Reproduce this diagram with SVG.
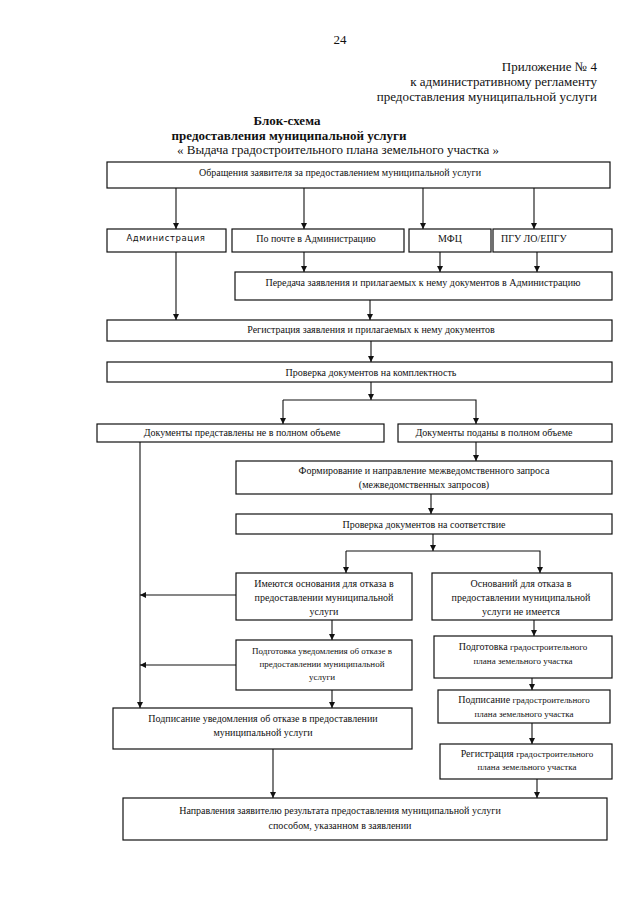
<svg xmlns="http://www.w3.org/2000/svg" width="640" height="901" viewBox="0 0 640 901">
<style>
  .bg{fill:#fff}
  .box{fill:#fff;stroke:#111;stroke-width:1.2}
  .t{font-family:"Liberation Serif","Times New Roman",serif;font-size:10px;fill:#111;text-anchor:middle}
  .h{font-family:"Liberation Serif","Times New Roman",serif;font-size:13px;fill:#111}
  .b{font-weight:bold;text-anchor:middle}
  .r{text-anchor:end}
  .st{text-anchor:start}
  .s{font-size:9px}
  .sans{font-family:"DejaVu Sans","Liberation Sans",sans-serif;font-size:8.5px;letter-spacing:0.6px}
  .c{fill:none;stroke:#111;stroke-width:1.1}
</style>
<defs>
  <marker id="ah" viewBox="0 0 10 10" refX="10" refY="5" markerWidth="6" markerHeight="6" markerUnits="userSpaceOnUse" orient="auto">
    <path d="M0,0 L10,5 L0,10 z" fill="#111"/>
  </marker>
</defs>
<rect class="bg" x="0" y="0" width="640" height="901"/>

<g id="header">
  <text class="h" x="340" y="44" text-anchor="middle">24</text>
  <text class="h r" x="597" y="71">Приложение № 4</text>
  <text class="h r" x="597" y="86">к административному регламенту</text>
  <text class="h r" x="597" y="101">предоставления муниципальной услуги</text>
  <text class="h b" x="287" y="125">Блок-схема</text>
  <text class="h b" x="289" y="140">предоставления муниципальной услуги</text>
  <text class="h" x="338" y="154" text-anchor="middle">« Выдача градостроительного плана земельного участка »</text>
</g>

<g id="connectors">
  <line class="c" x1="176" y1="188" x2="176" y2="229" marker-end="url(#ah)"/>
  <line class="c" x1="304" y1="188" x2="304" y2="229" marker-end="url(#ah)"/>
  <line class="c" x1="423" y1="188" x2="423" y2="229" marker-end="url(#ah)"/>
  <line class="c" x1="534" y1="188" x2="534" y2="229" marker-end="url(#ah)"/>
  <line class="c" x1="304" y1="252" x2="304" y2="272" marker-end="url(#ah)"/>
  <line class="c" x1="440" y1="252" x2="440" y2="272" marker-end="url(#ah)"/>
  <line class="c" x1="537" y1="252" x2="537" y2="272" marker-end="url(#ah)"/>
  <line class="c" x1="176" y1="252" x2="176" y2="320" marker-end="url(#ah)"/>
  <line class="c" x1="370" y1="300" x2="370" y2="320" marker-end="url(#ah)"/>
  <line class="c" x1="371" y1="341" x2="371" y2="362" marker-end="url(#ah)"/>
  <line class="c" x1="371" y1="382" x2="371" y2="400" marker-end="url(#ah)"/>
  <polyline class="c" points="283,400 476,400 476,424" marker-end="url(#ah)"/>
  <line class="c" x1="283" y1="400" x2="283" y2="424" marker-end="url(#ah)"/>
  <line class="c" x1="140" y1="442" x2="140" y2="708" marker-end="url(#ah)"/>
  <line class="c" x1="476" y1="442" x2="476" y2="461" marker-end="url(#ah)"/>
  <line class="c" x1="431" y1="494" x2="431" y2="514" marker-end="url(#ah)"/>
  <line class="c" x1="433" y1="534" x2="433" y2="551" marker-end="url(#ah)"/>
  <polyline class="c" points="346,551 540,551 540,573" marker-end="url(#ah)"/>
  <line class="c" x1="346" y1="551" x2="346" y2="573" marker-end="url(#ah)"/>
  <line class="c" x1="236" y1="595" x2="140" y2="595" marker-end="url(#ah)"/>
  <line class="c" x1="332" y1="620" x2="332" y2="640" marker-end="url(#ah)"/>
  <line class="c" x1="236" y1="665" x2="140" y2="665" marker-end="url(#ah)"/>
  <line class="c" x1="332" y1="690" x2="332" y2="708" marker-end="url(#ah)"/>
  <line class="c" x1="534" y1="620" x2="534" y2="636" marker-end="url(#ah)"/>
  <line class="c" x1="532" y1="678" x2="532" y2="690" marker-end="url(#ah)"/>
  <line class="c" x1="532" y1="723" x2="532" y2="744" marker-end="url(#ah)"/>
  <line class="c" x1="537" y1="779" x2="537" y2="798" marker-end="url(#ah)"/>
  <line class="c" x1="273" y1="749" x2="273" y2="798" marker-end="url(#ah)"/>
</g>

<g id="n-appeal">
  <rect class="box" x="107" y="162" width="503" height="26"/>
  <text class="t" x="340" y="176">Обращения заявителя за предоставлением муниципальной услуги</text>
</g>
<g id="n-admin">
  <rect class="box" x="107" y="229" width="119" height="23"/>
  <text class="t sans" x="166" y="241">Администрация</text>
</g>
<g id="n-post">
  <rect class="box" x="232" y="229" width="172" height="23"/>
  <text class="t" x="316" y="242">По почте в Администрацию</text>
</g>
<g id="n-mfc">
  <rect class="box" x="409" y="229" width="82" height="23"/>
  <text class="t" x="450" y="242">МФЦ</text>
</g>
<g id="n-pgu">
  <rect class="box" x="493" y="229" width="119" height="23"/>
  <text class="t st" x="501" y="242">ПГУ ЛО/ЕПГУ</text>
</g>
<g id="n-transfer">
  <rect class="box" x="235" y="272" width="377" height="28"/>
  <text class="t" x="423" y="286">Передача заявления и прилагаемых к нему документов в Администрацию</text>
</g>
<g id="n-register">
  <rect class="box" x="107" y="320" width="505" height="21"/>
  <text class="t" x="371" y="333">Регистрация заявления и прилагаемых к нему документов</text>
</g>
<g id="n-check">
  <rect class="box" x="107" y="362" width="505" height="20"/>
  <text class="t" x="371" y="376">Проверка документов на комплектность</text>
</g>
<g id="n-incomplete">
  <rect class="box" x="97" y="424" width="287" height="18"/>
  <text class="t" x="242" y="436">Документы представлены не в полном объеме</text>
</g>
<g id="n-complete">
  <rect class="box" x="398" y="424" width="214" height="18"/>
  <text class="t" x="494" y="436">Документы поданы в полном объеме</text>
</g>
<g id="n-request">
  <rect class="box" x="236" y="461" width="376" height="33"/>
  <text class="t" x="424" y="474">Формирование и направление межведомственного запроса</text>
  <text class="t" x="424" y="488">(межведомственных запросов)</text>
</g>
<g id="n-verify">
  <rect class="box" x="236" y="514" width="376" height="20"/>
  <text class="t" x="424" y="528">Проверка документов на соответствие</text>
</g>
<g id="n-refuse-grounds">
  <rect class="box" x="236" y="573" width="176" height="47"/>
  <text class="t" x="324" y="587">Имеются основания для отказа в</text>
  <text class="t" x="324" y="601">предоставлении муниципальной</text>
  <text class="t" x="324" y="615">услуги</text>
</g>
<g id="n-no-grounds">
  <rect class="box" x="432" y="573" width="180" height="47"/>
  <text class="t" x="521" y="587">Оснований для отказа в</text>
  <text class="t" x="521" y="601">предоставлении  муниципальной</text>
  <text class="t" x="521" y="615">услуги не имеется</text>
</g>
<g id="n-prep-refusal">
  <rect class="box" x="236" y="640" width="176" height="50"/>
  <text class="t s" x="322" y="654">Подготовка уведомления об отказе в</text>
  <text class="t s" x="322" y="667">предоставлении муниципальной</text>
  <text class="t s" x="322" y="680">услуги</text>
</g>
<g id="n-prep-plan">
  <rect class="box" x="434" y="636" width="178" height="42"/>
  <text class="t" x="523" y="650">Подготовка <tspan class="s">градостроительного</tspan></text>
  <text class="t s" x="523" y="664">плана земельного участка</text>
</g>
<g id="n-sign-plan">
  <rect class="box" x="438" y="690" width="172" height="33"/>
  <text class="t" x="524" y="703">Подписание <tspan class="s">градостроительного</tspan></text>
  <text class="t s" x="524" y="717">плана земельного участка</text>
</g>
<g id="n-reg-plan">
  <rect class="box" x="440" y="744" width="172" height="35"/>
  <text class="t" x="527" y="757">Регистрация <tspan class="s">градостроительного</tspan></text>
  <text class="t s" x="527" y="770">плана земельного участка</text>
</g>
<g id="n-sign-refusal">
  <rect class="box" x="113" y="708" width="299" height="41"/>
  <text class="t" x="263" y="722">Подписание уведомления об отказе в предоставлении</text>
  <text class="t" x="263" y="736">муниципальной услуги</text>
</g>
<g id="n-send">
  <rect class="box" x="123" y="798" width="484" height="42"/>
  <text class="t" x="340" y="814">Направления заявителю результата предоставления муниципальной услуги</text>
  <text class="t" x="340" y="829">способом, указанном в заявлении</text>
</g>
</svg>
